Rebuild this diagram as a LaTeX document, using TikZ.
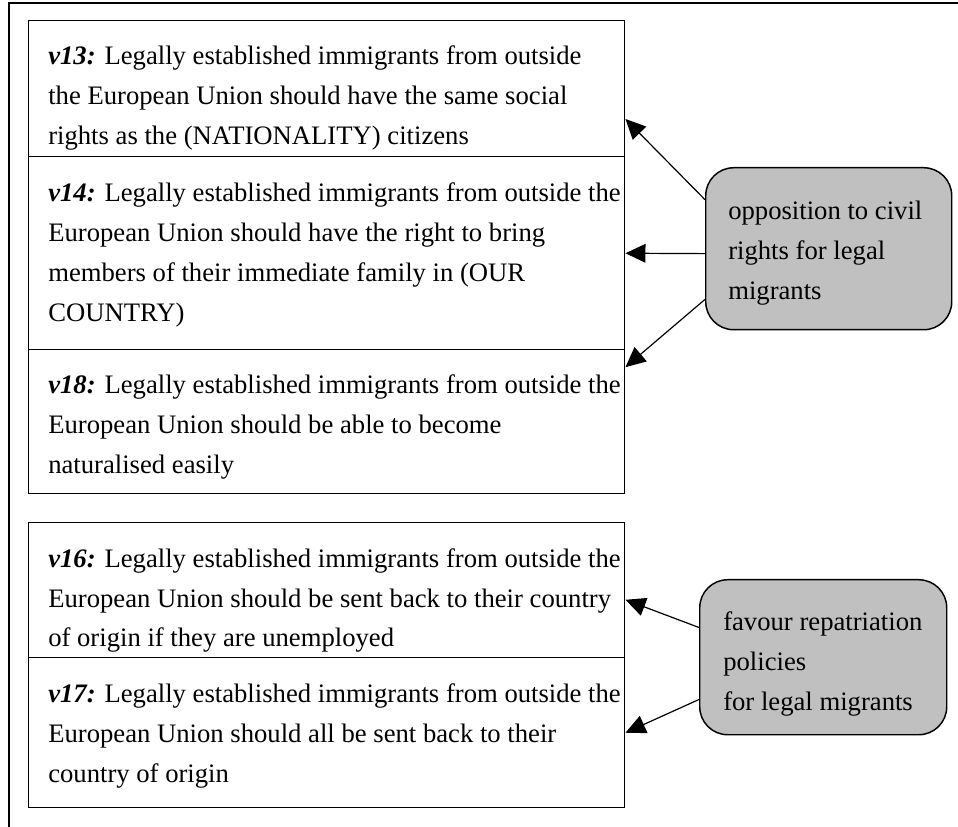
\documentclass[tikz,border=0pt]{standalone}
\usepackage{fontspec}
\setmainfont{Liberation Serif}
\usetikzlibrary{arrows.meta,calc}
\definecolor{factorgray}{HTML}{C0C0C0}

\newcommand{\itemlabel}[1]{{\bfseries\itshape #1:}}

\begin{document}
\begin{tikzpicture}[
  x=0.75pt, y=-0.75pt,
  font=\fontsize{20}{30}\selectfont,
  item/.style={draw, line width=1.1pt, anchor=north west, minimum width=447pt, inner sep=0pt},
  itemtext/.style={anchor=base west, align=left, inner sep=0pt},
  factor/.style={draw, line width=1.1pt, fill=factorgray, rounded corners=21pt, anchor=north west, inner sep=0pt},
  >={Triangle[length=15pt, width=14pt]},
  every edge/.style={draw, line width=0.9pt, ->}
]
\useasboundingbox (0,0) rectangle (958,827);

% outer frame
\draw[line width=1.4pt] (9,827) -- (9,3) -- (958,3);

% first block of items (text placed at its last baseline)
\node[item, minimum height=102pt]    (v13) at (28,20)  {};
\begin{scope}
  \clip (28,20) rectangle (624,150);
  \node[itemtext] (v13txt) at (48,145) {\itemlabel{v13} Legally established immigrants from outside\\the European Union should have the same social\\rights as the (NATIONALITY) citizens};
\end{scope}
\node[item, minimum height=144.75pt] (v14) at (28,156) {};
\node[itemtext] (v14txt) at (48,322) {\itemlabel{v14} Legally established immigrants from outside the\\European Union should have the right to bring\\members of their immediate family in (OUR\\COUNTRY)};
\node[item, minimum height=108pt]    (v18) at (28,349) {};
\node[itemtext] (v18txt) at (48,474) {\itemlabel{v18} Legally established immigrants from outside the\\European Union should be able to become\\naturalised easily};

% second block of items
\node[item, minimum height=101.25pt] (v16) at (28,522) {};
\node[itemtext] (v16txt) at (48,647) {\itemlabel{v16} Legally established immigrants from outside the\\European Union should be sent back to their country\\of origin if they are unemployed};
\node[item, minimum height=112.5pt]  (v17) at (28,657) {};
\node[itemtext] (v17txt) at (48,782) {\itemlabel{v17} Legally established immigrants from outside the\\European Union should all be sent back to their\\country of origin};

% latent factors
\node[factor, minimum width=184.5pt, minimum height=121.5pt]   (opp) at (705,167) {};
\node[itemtext] (opptxt) at (728,300) {opposition to civil\\rights for legal\\migrants};
\node[factor, minimum width=185.25pt, minimum height=116.25pt] (fav) at (699,579) {};
\node[itemtext] (favtxt) at (723,710) {favour repatriation\\policies\\for legal migrants};

% loadings
\draw ($(opp.north west)!0.2!(opp.south west)$)  edge ($(v13.north east)!0.72!(v13.south east)$);
\draw ($(opp.north west)!0.53!(opp.south west)$) edge ($(v14.north east)!0.5!(v14.south east)$);
\draw ($(opp.north west)!0.81!(opp.south west)$) edge ($(v18.north east)!0.125!(v18.south east)$);
\draw ($(fav.north west)!0.31!(fav.south west)$)  edge ($(v16.north east)!0.57!(v16.south east)$);
\draw ($(fav.north west)!0.77!(fav.south west)$)  edge ($(v17.north east)!0.5!(v17.south east)$);

\end{tikzpicture}
\end{document}
